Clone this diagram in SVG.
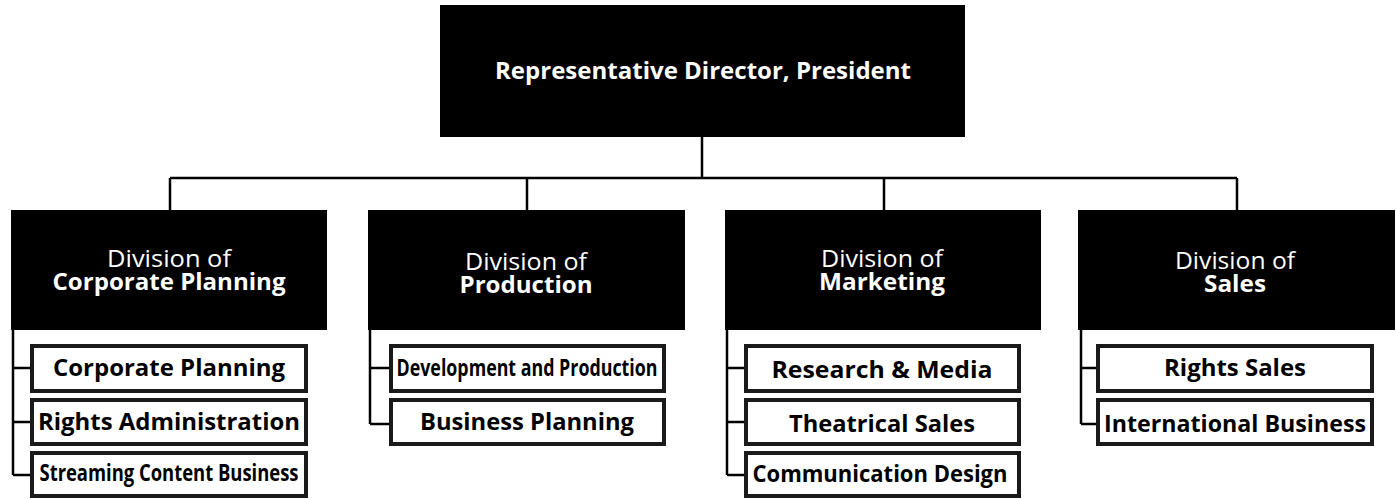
<svg xmlns="http://www.w3.org/2000/svg" width="1396" height="499" viewBox="0 0 1396 499">
<style>
.top{fill:#000}
.div{fill:#000}
.sub{fill:#fff;stroke:#1a1a1a;stroke-width:4}
.line{stroke:#000;stroke-width:2.5;fill:none}
.tt{font-family:"Open Sans","Liberation Sans",sans-serif;fill:#fff;font-weight:bold;font-size:24px;text-anchor:middle}
.dn{font-family:"Open Sans","Liberation Sans",sans-serif;fill:#fff;font-size:24px;text-anchor:middle}
.db{font-family:"Open Sans","Liberation Sans",sans-serif;fill:#fff;font-weight:bold;font-size:24px;text-anchor:middle}
.st{font-family:"Open Sans","Liberation Sans",sans-serif;fill:#000;font-weight:bold;font-size:24px;text-anchor:middle}
</style>
<rect width="1396" height="499" fill="#fff"/>
<g id="connectors" class="line">
<path d="M702 137V178M170 178H1237M170 178V210M527 178V210M884 178V210M1237 178V210"/>
<path d="M13 330V475M13 368H31M13 422H31M13 475H31"/>
<path d="M370 330V424M370 368H391M370 424H391"/>
<path d="M727 330V475M727 368H746M727 422H746M727 475H746"/>
<path d="M1081 330V424M1081 368H1098M1081 424H1098"/>
</g>
<g id="president">
<rect class="top" x="440" y="5" width="525" height="132"/>
<text class="tt" x="703" y="79" textLength="416" lengthAdjust="spacingAndGlyphs">Representative Director, President</text>
</g>
<g id="div-corporate">
<rect class="div" x="11" y="210" width="316" height="120"/>
<text class="dn" x="169" y="267" textLength="124" lengthAdjust="spacingAndGlyphs">Division of</text>
<text class="db" x="169" y="290" textLength="233" lengthAdjust="spacingAndGlyphs">Corporate Planning</text>
</g>
<g id="div-production">
<rect class="div" x="368" y="210" width="317" height="120"/>
<text class="dn" x="526" y="270" textLength="122" lengthAdjust="spacingAndGlyphs">Division of</text>
<text class="db" x="526" y="293" textLength="133" lengthAdjust="spacingAndGlyphs">Production</text>
</g>
<g id="div-marketing">
<rect class="div" x="725" y="210" width="316" height="120"/>
<text class="dn" x="882" y="267" textLength="122" lengthAdjust="spacingAndGlyphs">Division of</text>
<text class="db" x="882" y="290" textLength="126" lengthAdjust="spacingAndGlyphs">Marketing</text>
</g>
<g id="div-sales">
<rect class="div" x="1078" y="210" width="317" height="120"/>
<text class="dn" x="1235" y="269" textLength="120" lengthAdjust="spacingAndGlyphs">Division of</text>
<text class="db" x="1235" y="292" textLength="62" lengthAdjust="spacingAndGlyphs">Sales</text>
</g>
<g id="sub-corporate-planning">
<rect class="sub" x="32" y="346" width="274" height="45"/>
<text class="st" x="169" y="376" textLength="232" lengthAdjust="spacingAndGlyphs">Corporate Planning</text>
</g>
<g id="sub-rights-administration">
<rect class="sub" x="32" y="400" width="274" height="44"/>
<text class="st" x="169" y="430" textLength="262" lengthAdjust="spacingAndGlyphs">Rights Administration</text>
</g>
<g id="sub-streaming">
<rect class="sub" x="32" y="453" width="274" height="43"/>
<text class="st" x="169" y="481" textLength="259" lengthAdjust="spacingAndGlyphs">Streaming Content Business</text>
</g>
<g id="sub-development">
<rect class="sub" x="391" y="346" width="273" height="45"/>
<text class="st" x="527" y="376" textLength="261" lengthAdjust="spacingAndGlyphs">Development and Production</text>
</g>
<g id="sub-business-planning">
<rect class="sub" x="391" y="400" width="273" height="44"/>
<text class="st" x="527" y="430" textLength="214" lengthAdjust="spacingAndGlyphs">Business Planning</text>
</g>
<g id="sub-research">
<rect class="sub" x="746" y="346" width="273" height="45"/>
<text class="st" x="882" y="378" textLength="221" lengthAdjust="spacingAndGlyphs">Research &amp; Media</text>
</g>
<g id="sub-theatrical">
<rect class="sub" x="746" y="400" width="273" height="44"/>
<text class="st" x="882" y="432" textLength="186" lengthAdjust="spacingAndGlyphs">Theatrical Sales</text>
</g>
<g id="sub-communication">
<rect class="sub" x="746" y="453" width="273" height="43"/>
<text class="st" x="880" y="482" textLength="255" lengthAdjust="spacingAndGlyphs">Communication Design</text>
</g>
<g id="sub-rights-sales">
<rect class="sub" x="1098" y="346" width="274" height="45"/>
<text class="st" x="1235" y="376" textLength="142" lengthAdjust="spacingAndGlyphs">Rights Sales</text>
</g>
<g id="sub-international">
<rect class="sub" x="1098" y="400" width="274" height="44"/>
<text class="st" x="1235" y="432" textLength="262" lengthAdjust="spacingAndGlyphs">International Business</text>
</g>
</svg>
